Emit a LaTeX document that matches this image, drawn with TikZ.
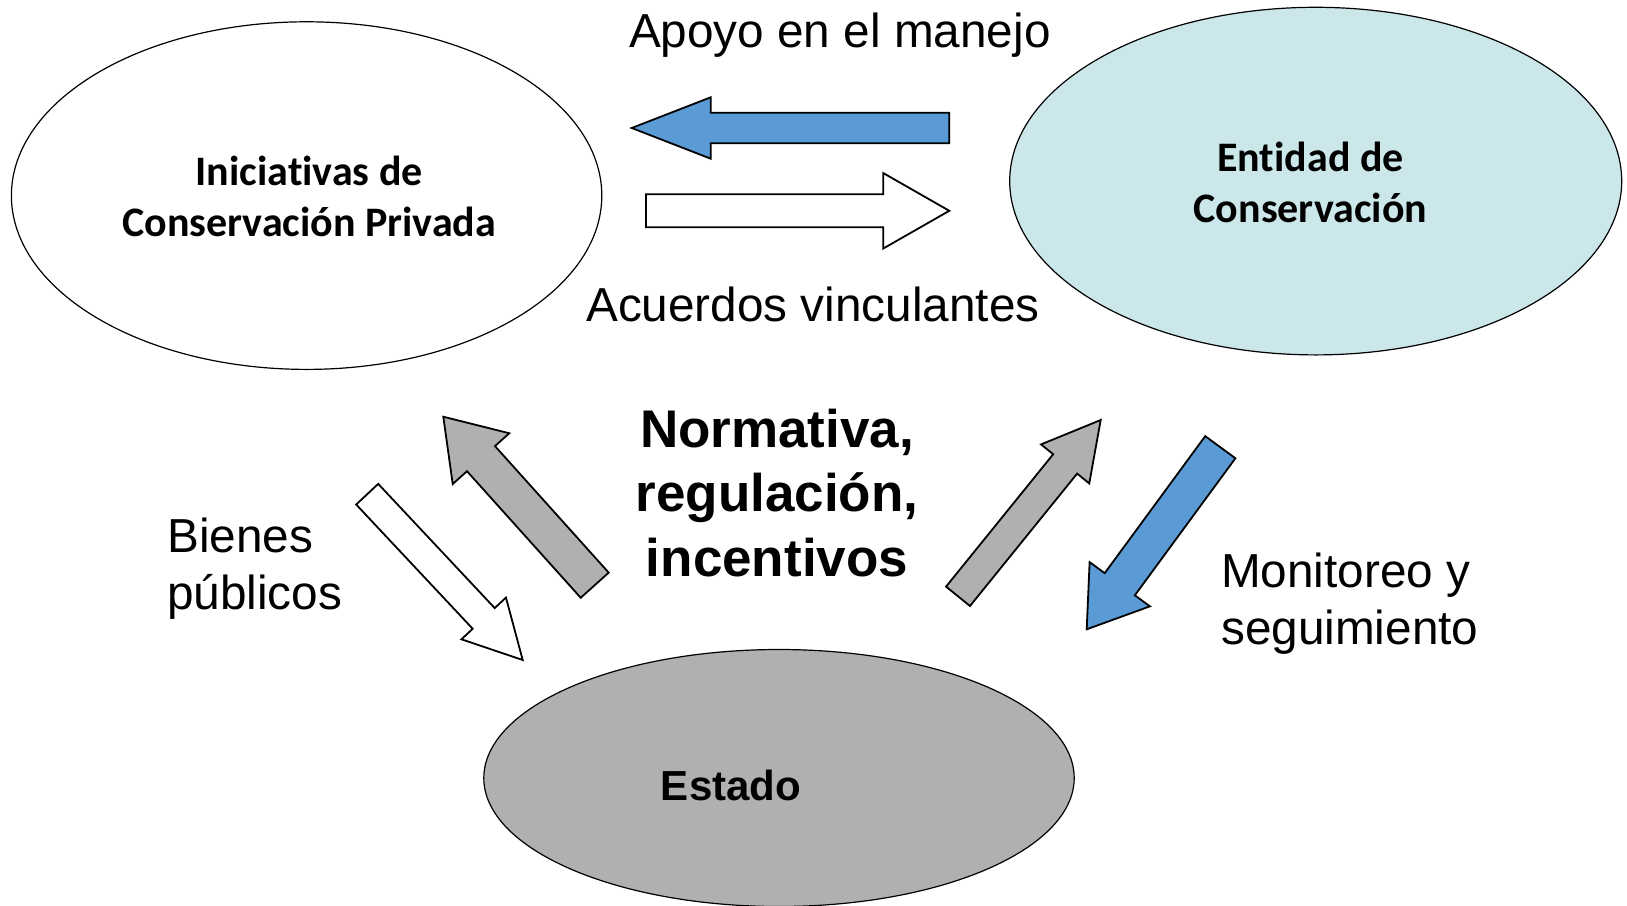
\documentclass[tikz,border=0pt]{standalone}
\usepackage{fontspec}
\setmainfont{Liberation Sans}
\newfontfamily\calibrifont[Ligatures=NoCommon]{Carlito}
\usetikzlibrary{shapes.geometric,calc}
\definecolor{arrowblue}{HTML}{5B9BD5}
\definecolor{stategray}{HTML}{B0B0B0}
\definecolor{entcyan}{HTML}{CCE7EA}
\newcommand{\blockarrow}[6]{%
  \path ($(#3)!#6!(#2)$) coordinate (hb);
  \draw[#1] ($(#2)!#4!90:(#3)$) -- ($(hb)!#4!90:(#3)$) -- ($(hb)!#5!90:(#3)$) -- (#3)
    -- ($(hb)!#5!-90:(#3)$) -- ($(hb)!#4!-90:(#3)$) -- ($(#2)!#4!-90:(#3)$) -- cycle;}
\begin{document}
\begin{tikzpicture}[x=1pt,y=-1pt,
  actor/.style={ellipse, draw=black, line width=1.2pt, inner sep=0pt},
  actortext/.style={font=\calibrifont\bfseries\fontsize{42}{51}\selectfont, align=center, inner sep=0pt},
  lbl/.style={font=\fontsize{47.7}{57.2}\selectfont, inner sep=0pt, align=left},
  bigbold/.style={font=\bfseries\fontsize{53}{64.4}\selectfont, inner sep=0pt, align=center},
  blk/.style={draw=black, line width=1.8pt, line join=miter},
  bluearrow/.style={blk, fill=arrowblue},
  whitearrow/.style={blk, fill=white},
  grayarrow/.style={blk, fill=stategray}]
\useasboundingbox (0,0) rectangle (1627,905);
\fill[white] (0,0) rectangle (1627,905);
% actors
\node[actor, fill=white, minimum width=590.4pt, minimum height=347.6pt] (ini) at (306.6,195.6) {};
\node[actortext] (initext) at (309.2,196.6) {Iniciativas de\\Conservación Privada};
\node[actor, fill=entcyan, minimum width=612pt, minimum height=347.6pt] (ent) at (1315.7,181.1) {};
\node[actortext] (enttext) at (1310.5,182.1) {Entidad de\\Conservación};
\node[actor, fill=stategray, minimum width=590.4pt, minimum height=257pt] (est) at (779,778) {};
\node[font=\bfseries\fontsize{42}{50}\selectfont, inner sep=0pt, anchor=base] (esttext) at (731,800) {Estado};
% arrow end points
\coordinate (a1t) at (949.3,128);   \coordinate (a1h) at (631.7,128);
\coordinate (a2t) at (646,210.8);   \coordinate (a2h) at (949.3,210.8);
\coordinate (a3t) at (594.7,585.2); \coordinate (a3h) at (443.3,416.7);
\coordinate (a4t) at (367.2,494.2); \coordinate (a4h) at (522.7,660);
\coordinate (a5t) at (958,596.3);   \coordinate (a5h) at (1100.7,420);
\coordinate (a6t) at (1220.3,447.2);\coordinate (a6h) at (1086.7,629.3);
\blockarrow{bluearrow}{a1t}{a1h}{15.3pt}{30.7pt}{79pt}
\blockarrow{whitearrow}{a2t}{a2h}{16.5pt}{37.7pt}{66pt}
\blockarrow{grayarrow}{a3t}{a3h}{18.8pt}{38pt}{56.4pt}
\blockarrow{whitearrow}{a4t}{a4h}{15.1pt}{30.5pt}{57pt}
\blockarrow{grayarrow}{a5t}{a5h}{15.4pt}{31pt}{56.5pt}
\blockarrow{bluearrow}{a6t}{a6h}{18.7pt}{37.4pt}{55.9pt}
% labels
\node[lbl, anchor=base west] (apoyo) at (628.8,47.5) {Apoyo en el manejo};
\node[lbl, anchor=base west] (acuerdos) at (586,321) {Acuerdos vinculantes};
\node[lbl, anchor=base west] (bienes) at (167,609.2) {Bienes\\públicos};
\node[lbl, anchor=base west] (monitoreo) at (1221,644.2) {Monitoreo y\\seguimiento};
\node[bigbold, anchor=base] (normativa) at (777,576.3) {Normativa,\\regulación,\\incentivos};
\end{tikzpicture}
\end{document}
